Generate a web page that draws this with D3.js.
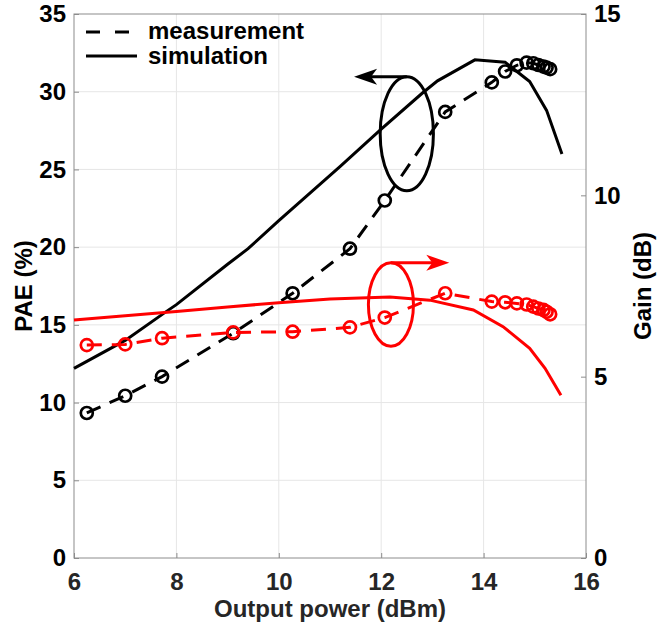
<!DOCTYPE html>
<html>
<head>
<meta charset="utf-8">
<script src="https://cdn.jsdelivr.net/npm/d3@7"></script>
<style>
  body { margin: 0; background: #fff; }
  svg text { font-family: "Liberation Sans", Arial, sans-serif; font-weight: bold; }
</style>
</head>
<body>
<svg id="chart" width="662" height="634"></svg>
<script>
// measured points (output power in dBm)
let measPower = [6.25, 7.0, 7.72, 9.11, 10.27, 11.39, 12.07, 13.25, 14.16, 14.42, 14.65, 14.84, 14.97, 15.07, 15.17, 15.23, 15.30];
let measPAE   = [9.33, 10.44, 11.67, 14.46, 17.03, 19.9, 23.0, 28.7, 30.6, 31.3, 31.7, 31.87, 31.83, 31.72, 31.62, 31.55, 31.45];
let measGain  = [5.87, 5.89, 6.06, 6.22, 6.24, 6.36, 6.63, 7.30, 7.07, 7.05, 7.02, 6.99, 6.93, 6.88, 6.84, 6.79, 6.72];

// simulated curves
let simPowerPAE = [6, 7, 7.8, 8, 9, 9.4, 10, 11.2, 12, 12.8, 13.1, 13.83, 14.42, 14.9, 15.23, 15.53];
let simPAE      = [12.2, 14.0, 15.85, 16.3, 18.9, 19.9, 21.7, 25.2, 27.6, 29.9, 30.7, 32.05, 31.9, 30.65, 28.8, 26.0];
let simPowerGain = [6, 7, 8, 9, 10, 11, 12.17, 12.95, 13.8, 14.38, 14.9, 15.2, 15.51];
let simGain      = [6.56, 6.68, 6.8, 6.92, 7.04, 7.14, 7.2, 7.11, 6.84, 6.38, 5.78, 5.23, 4.49];

// ticks
let xTicks = [6, 8, 10, 12, 14, 16];
let paeTicks = [0, 5, 10, 15, 20, 25, 30, 35];
let gainTicks = [0, 5, 10, 15];

// annotation ellipses: [centre power, centre value, half width dBm, half height]
let paeEllipse = [12.5, 27.3, 0.52, 3.67];
let gainEllipse = [12.19, 6.99, 0.44, 1.15];
let paeArrowTip = 11.47;
let gainArrowTip = 13.33;

let svg = d3.select('#chart');
let mLeft = 74, mRight = 586, mTop = 14, mBottom = 558;

let x = d3.scaleLinear().domain([6, 16]).range([mLeft, mRight]);
let yL = d3.scaleLinear().domain([0, 35]).range([mBottom, mTop]);
let yR = d3.scaleLinear().domain([0, 15]).range([mBottom, mTop]);

// grid
let grid = svg.append('g').attr('stroke', '#e6e6e6').attr('stroke-width', 1);
grid.selectAll('.gx').data(xTicks.slice(1, -1)).enter().append('line')
    .attr('x1', d => x(d)).attr('x2', d => x(d))
    .attr('y1', mTop).attr('y2', mBottom);
grid.selectAll('.gy').data(paeTicks.slice(1, -1)).enter().append('line')
    .attr('x1', mLeft).attr('x2', mRight)
    .attr('y1', d => yL(d)).attr('y2', d => yL(d));

// axes
let xAxis = svg.append('g').attr('transform', 'translate(0,' + mBottom + ')')
    .call(d3.axisBottom(x).tickValues(xTicks).tickSize(-5).tickPadding(15));
xAxis.selectAll('text').attr('fill', '#262626');

let lAxis = svg.append('g').attr('transform', 'translate(' + mLeft + ',0)')
    .call(d3.axisLeft(yL).tickValues(paeTicks).tickSize(-5).tickPadding(8));
lAxis.selectAll('text').attr('fill', '#000');

let rAxis = svg.append('g').attr('transform', 'translate(' + mRight + ',0)')
    .call(d3.axisRight(yR).tickValues(gainTicks).tickSize(-5).tickPadding(8));
rAxis.selectAll('text').attr('fill', '#000');

svg.selectAll('.tick text').style('font-size', '24px');
svg.selectAll('.tick line').attr('stroke', '#8c8c8c');
svg.selectAll('.domain').remove();

svg.append('rect')
    .attr('x', mLeft).attr('y', mTop)
    .attr('width', mRight - mLeft).attr('height', mBottom - mTop)
    .attr('fill', 'none').attr('stroke', '#8c8c8c').attr('stroke-width', 1);

// axis titles
svg.append('text').attr('x', (mLeft + mRight) / 2).attr('y', 617)
    .attr('text-anchor', 'middle').style('font-size', '24px').attr('fill', '#262626')
    .text('Output power (dBm)');
svg.append('text')
    .attr('transform', 'translate(32,' + (mTop + mBottom) / 2 + ') rotate(-90)')
    .attr('text-anchor', 'middle').style('font-size', '24px').attr('fill', '#000')
    .text('PAE (%)');
svg.append('text')
    .attr('transform', 'translate(651,' + (mTop + mBottom) / 2 + ') rotate(-90)')
    .attr('text-anchor', 'middle').style('font-size', '24px').attr('fill', '#000')
    .text('Gain (dB)');

let plot = svg.append('g');
let dash = '15,10';

function drawSeries(px, py, yScale, color, dashed, markers) {
    let pts = px.map((p, i) => [p, py[i]]);
    let line = d3.line().x(d => x(d[0])).y(d => yScale(d[1]));
    plot.append('path').datum(pts)
        .attr('d', line)
        .attr('fill', 'none')
        .attr('stroke', color)
        .attr('stroke-width', 3)
        .attr('stroke-dasharray', dashed ? dash : null);
    if (markers) {
        plot.append('g').selectAll('circle').data(pts).enter().append('circle')
            .attr('cx', d => x(d[0])).attr('cy', d => yScale(d[1]))
            .attr('r', 6)
            .attr('fill', 'none')
            .attr('stroke', color)
            .attr('stroke-width', 2.7);
    }
}

drawSeries(measPower, measPAE, yL, '#000', true, true);
drawSeries(simPowerPAE, simPAE, yL, '#000', false, false);
drawSeries(measPower, measGain, yR, '#ff0000', true, true);
drawSeries(simPowerGain, simGain, yR, '#ff0000', false, false);

// ellipse with arrow pointing at its axis
function annotate(e, yScale, tipPower, color) {
    let cx = x(e[0]), cy = yScale(e[1]);
    let rx = x(e[0] + e[2]) - cx, ry = yScale(e[1]) - yScale(e[1] + e[3]);
    plot.append('ellipse')
        .attr('cx', cx).attr('cy', cy).attr('rx', rx).attr('ry', ry)
        .attr('fill', 'none').attr('stroke', color).attr('stroke-width', 3);
    let ty = cy - ry, tx = x(tipPower);
    let dir = tx < cx ? 1 : -1;
    plot.append('line')
        .attr('x1', cx).attr('y1', ty).attr('x2', tx + dir * 10).attr('y2', ty)
        .attr('stroke', color).attr('stroke-width', 3);
    plot.append('path')
        .attr('d', 'M' + tx + ',' + ty +
            'L' + (tx + dir * 23) + ',' + (ty - 8) +
            'L' + (tx + dir * 17) + ',' + ty +
            'L' + (tx + dir * 23) + ',' + (ty + 8) + 'Z')
        .attr('fill', color);
}

annotate(paeEllipse, yL, paeArrowTip, '#000');
annotate(gainEllipse, yR, gainArrowTip, '#ff0000');

// legend
let legend = svg.append('g');
legend.append('line').attr('x1', 86).attr('x2', 129).attr('y1', 32).attr('y2', 32)
    .attr('stroke', '#000').attr('stroke-width', 3).attr('stroke-dasharray', '14,15');
legend.append('line').attr('x1', 86).attr('x2', 137).attr('y1', 56).attr('y2', 56)
    .attr('stroke', '#000').attr('stroke-width', 3);
legend.append('text').attr('x', 148).attr('y', 39).style('font-size', '24px').text('measurement');
legend.append('text').attr('x', 148).attr('y', 64).style('font-size', '24px').text('simulation');
</script>
</body>
</html>
